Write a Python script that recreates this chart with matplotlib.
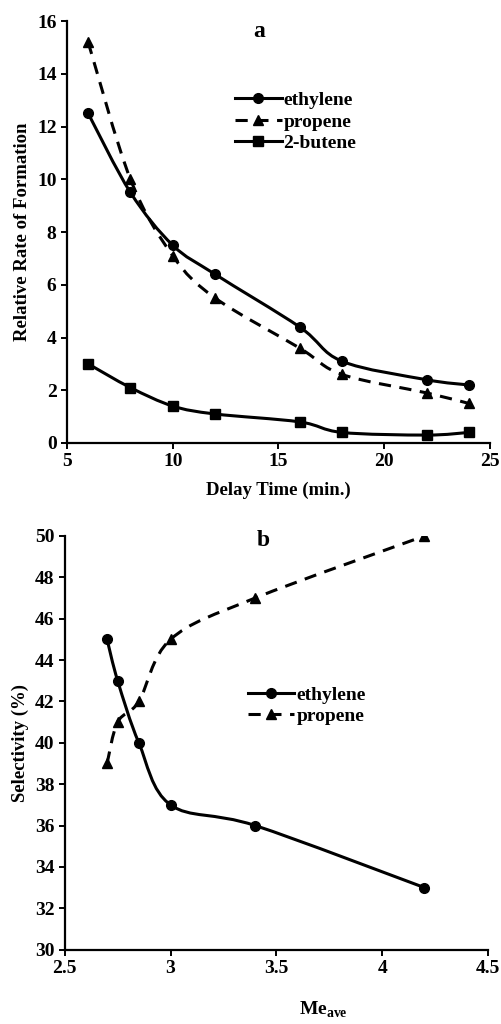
import numpy as np
import matplotlib.pyplot as plt
from matplotlib.path import Path
from matplotlib.patches import PathPatch

plt.rcParams['font.family'] = ['Liberation Serif', 'DejaVu Serif']
plt.rcParams['font.weight'] = 'bold'
plt.rcParams['mathtext.fontset'] = 'custom'
plt.rcParams['mathtext.rm'] = 'Liberation Serif:bold'
plt.rcParams['mathtext.bf'] = 'Liberation Serif:bold'

# panel a
delay = [6, 8, 10, 12, 16, 18, 22, 24]
eth_a = [12.5, 9.5, 7.5, 6.4, 4.4, 3.1, 2.4, 2.2]
pro_a = [15.2, 10.0, 7.1, 5.5, 3.6, 2.6, 1.9, 1.5]
but_a = [3.0, 2.1, 1.4, 1.1, 0.8, 0.4, 0.3, 0.4]

# panel b
me_ave = [2.7, 2.75, 2.85, 3.0, 3.4, 4.2]
eth_b = [45, 43, 40, 37, 36, 33]
pro_b = [39, 41, 42, 45, 47, 50]

dash = (0, (4, 2.8))


def smooth_path(x, y):
    # Excel-like smoothed line: cubic Bezier segments through the points
    p = np.column_stack([x, y]).astype(float)
    ext = np.vstack([p[0], p, p[-1]])
    verts = [p[0]]
    codes = [Path.MOVETO]
    for i in range(len(p) - 1):
        p0, p1, p2, p3 = ext[i], ext[i + 1], ext[i + 2], ext[i + 3]
        c1 = p1 + (p2 - p0) / 6
        c2 = p2 - (p3 - p1) / 6
        verts += [c1, c2, p2]
        codes += [Path.CURVE4] * 3
    return Path(verts, codes)


def draw(ax, x, y, marker, ms, ls, label):
    patch = PathPatch(smooth_path(x, y), fill=False, lw=2.2, ls=ls, color='black')
    ax.add_patch(patch)
    ax.plot(x, y, ls='none', marker=marker, ms=ms, color='black')
    # legend proxy
    ax.plot([], [], ls=ls, lw=2.2, marker=marker, ms=ms, color='black', label=label)


def style(ax):
    for s in ['top', 'right']:
        ax.spines[s].set_visible(False)
    for s in ['left', 'bottom']:
        ax.spines[s].set_linewidth(1.6)
    ax.tick_params(width=1.4, length=4, labelsize=14)
    for lab in ax.get_xticklabels() + ax.get_yticklabels():
        lab.set_fontweight('bold')


fig = plt.figure(figsize=(5.02, 10.24), dpi=100)

ax1 = fig.add_axes([0.1335, 0.5674, 0.8425, 0.412])
draw(ax1, delay, eth_a, 'o', 7, '-', 'ethylene')
draw(ax1, delay, pro_a, '^', 7, dash, 'propene')
draw(ax1, delay, but_a, 's', 7.5, '-', '2-butene')
ax1.set_xlim(5, 25)
ax1.set_ylim(0, 16)
ax1.set_xticks([5, 10, 15, 20, 25])
ax1.set_yticks(range(0, 17, 2))
style(ax1)
ax1.set_ylabel('Relative Rate of Formation', fontsize=13.5, fontweight='bold', labelpad=4)
ax1.set_xlabel('Delay Time (min.)', fontsize=13.5, fontweight='bold', labelpad=8)
ax1.text(0.455, 0.975, 'a', transform=ax1.transAxes, fontsize=17, fontweight='bold',
         ha='center', va='center')
ax1.legend(loc='upper left', bbox_to_anchor=(0.365, 0.865), frameon=False,
           handlelength=2.4, handletextpad=0.1, labelspacing=0.2, borderpad=0.2,
           prop={'weight': 'bold', 'size': 14})

ax2 = fig.add_axes([0.129, 0.0726, 0.843, 0.404])
draw(ax2, me_ave, eth_b, 'o', 7, '-', 'ethylene')
draw(ax2, me_ave, pro_b, '^', 7, dash, 'propene')
ax2.set_xlim(2.5, 4.5)
ax2.set_ylim(30, 50)
ax2.set_xticks([2.5, 3, 3.5, 4, 4.5])
ax2.set_xticklabels(['2.5', '3', '3.5', '4', '4.5'])
ax2.set_yticks(range(30, 51, 2))
style(ax2)
ax2.set_ylabel('Selectivity (%)', fontsize=13.5, fontweight='bold', labelpad=4)
ax2.text(0.61, -0.145, r'Me$_{\mathrm{ave}}$', transform=ax2.transAxes, fontsize=14,
         fontweight='bold', ha='center', va='center')
ax2.text(0.47, 0.99, 'b', transform=ax2.transAxes, fontsize=17, fontweight='bold',
         ha='center', va='center')
ax2.legend(loc='upper left', bbox_to_anchor=(0.40, 0.67), frameon=False,
           handlelength=2.4, handletextpad=0.1, labelspacing=0.2, borderpad=0.2,
           prop={'weight': 'bold', 'size': 14})

fig.savefig('out.png', dpi=100)
